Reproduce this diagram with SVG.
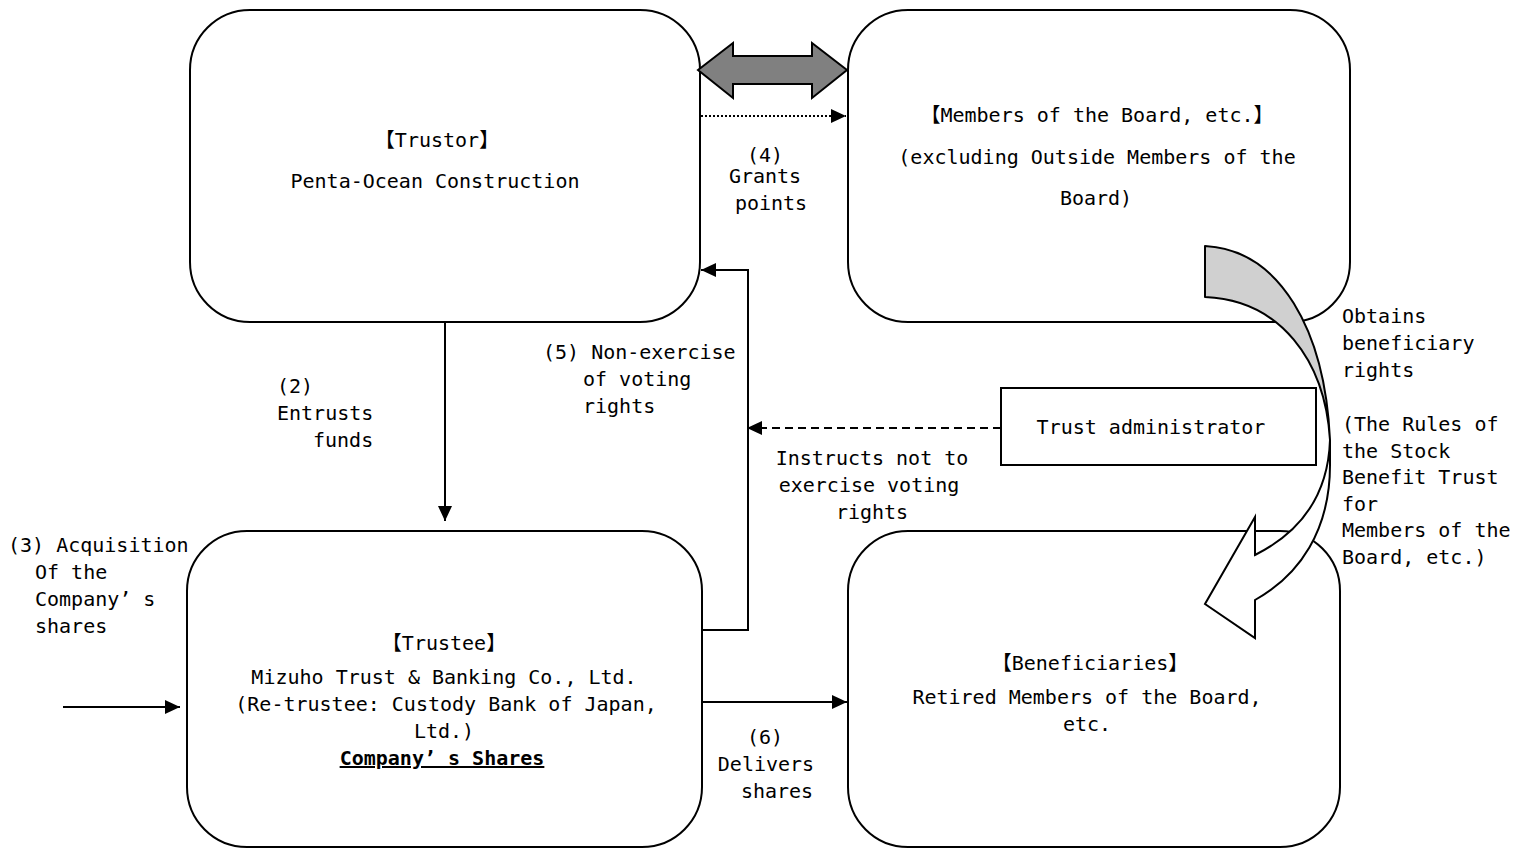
<svg xmlns="http://www.w3.org/2000/svg" width="1527" height="850" viewBox="0 0 1527 850">
<style>
.box{fill:#fff;stroke:#000;stroke-width:2}
.ln{fill:none;stroke:#000;stroke-width:2}
text{font-family:"DejaVu Sans Mono","Noto Sans CJK JP",monospace;font-size:20px;fill:#000}
.c{text-anchor:middle}
</style>
<defs>
<marker id="ah" markerUnits="userSpaceOnUse" markerWidth="16" markerHeight="14" refX="15" refY="7" orient="auto">
<path d="M0,0 L15,7 L0,14 Z" fill="#000"/>
</marker>
</defs>
<rect width="1527" height="850" fill="#fff"/>

<g id="trustor">
<rect class="box" x="190" y="10" width="510" height="312" rx="60" ry="60"/>
<text class="c" x="437" y="147">【Trustor】</text>
<text class="c" x="435" y="188">Penta-Ocean Construction</text>
</g>

<g id="members">
<rect class="box" x="848" y="10" width="502" height="312" rx="60" ry="60"/>
<text class="c" x="1097" y="122">【Members of the Board, etc.】</text>
<text class="c" x="1097" y="164">(excluding Outside Members of the</text>
<text class="c" x="1096" y="205">Board)</text>
</g>

<g id="trustee">
<rect class="box" x="187" y="531" width="515" height="316" rx="60" ry="60"/>
<text class="c" x="444" y="650">【Trustee】</text>
<text class="c" x="444" y="684">Mizuho Trust &amp; Banking Co., Ltd.</text>
<text class="c" x="446" y="711">(Re-trustee: Custody Bank of Japan,</text>
<text class="c" x="444" y="738">Ltd.)</text>
<text class="c" x="442" y="765" font-weight="bold" text-decoration="underline">Company’ s Shares</text>
</g>

<g id="beneficiaries">
<rect class="box" x="848" y="531" width="492" height="316" rx="60" ry="60"/>
<text class="c" x="1090" y="670">【Beneficiaries】</text>
<text class="c" x="1087" y="704">Retired Members of the Board,</text>
<text class="c" x="1087" y="731">etc.</text>
</g>

<g id="trust-admin">
<rect class="box" x="1001" y="388" width="315" height="77"/>
<text class="c" x="1151" y="434">Trust administrator</text>
</g>

<g id="connectors">
<path d="M698,70 L733,43 L733,56 L812,56 L812,43 L847,70 L812,98 L812,84 L733,84 L733,98 Z" fill="#808080" stroke="#000" stroke-width="2"/>
<line class="ln" x1="701" y1="116" x2="846" y2="116" stroke-dasharray="2,2" marker-end="url(#ah)"/>
<line class="ln" x1="445" y1="322" x2="445" y2="521" marker-end="url(#ah)"/>
<polyline class="ln" points="702,630 748,630 748,270 701,270" marker-end="url(#ah)"/>
<line class="ln" x1="1001" y1="428" x2="747" y2="428" stroke-dasharray="8,5" marker-end="url(#ah)"/>
<line class="ln" x1="702" y1="702" x2="847" y2="702" marker-end="url(#ah)"/>
<line class="ln" x1="63" y1="707" x2="180" y2="707" marker-end="url(#ah)"/>
<g id="curved-arrow">
<path d="M1205,246 C1280,250 1325,330 1330,440 C1325,360 1280,300 1205,297 Z" fill="#d0d0d0" stroke="#000" stroke-width="2" stroke-linejoin="round"/>
<path d="M1330,440 L1330,465 C1330,530 1300,575 1255,600 L1255,638 L1205,604 L1255,517 L1255,555 C1295,535 1328,500 1330,440 Z" fill="#fff" stroke="#000" stroke-width="2" stroke-linejoin="miter"/>
</g>
</g>

<g id="labels">
<text class="c" x="765" y="162">(4)</text>
<text class="c" x="765" y="183">Grants</text>
<text class="c" x="771" y="210">points</text>
<text x="277" y="393">(2)</text>
<text x="277" y="420">Entrusts</text>
<text x="313" y="447">funds</text>
<text x="543" y="359">(5) Non-exercise</text>
<text x="583" y="386">of voting</text>
<text x="583" y="413">rights</text>
<text class="c" x="872" y="465">Instructs not to</text>
<text class="c" x="869" y="492">exercise voting</text>
<text class="c" x="872" y="519">rights</text>
<text class="c" x="765" y="744">(6)</text>
<text class="c" x="766" y="771">Delivers</text>
<text class="c" x="777" y="798">shares</text>
<text x="8" y="552">(3) Acquisition</text>
<text x="35" y="579">Of the</text>
<text x="35" y="606">Company’ s</text>
<text x="35" y="633">shares</text>
<text x="1342" y="323">Obtains</text>
<text x="1342" y="350">beneficiary</text>
<text x="1342" y="377">rights</text>
<text x="1342" y="431">(The  Rules of</text>
<text x="1342" y="458">the Stock</text>
<text x="1342" y="484">Benefit Trust</text>
<text x="1342" y="511">for</text>
<text x="1342" y="537">Members of the</text>
<text x="1342" y="564">Board, etc.)</text>
</g>
</svg>
